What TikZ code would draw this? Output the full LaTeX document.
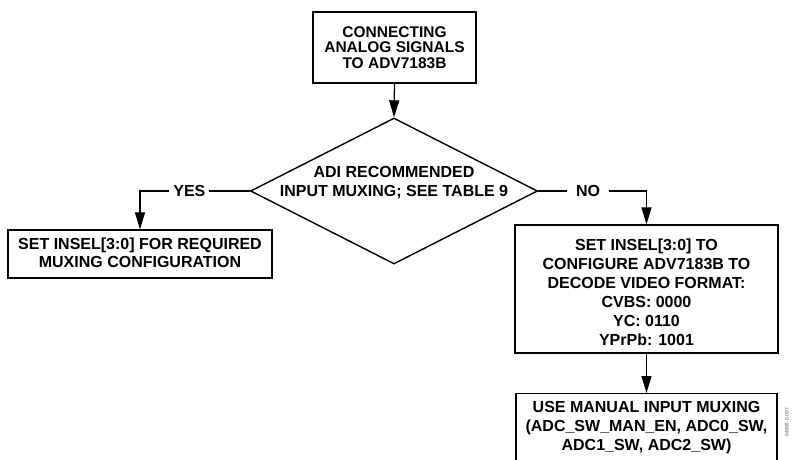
\documentclass[tikz,border=0pt]{standalone}
\usepackage{fontspec}
\setmainfont{Liberation Sans}
\usetikzlibrary{shapes.geometric,arrows.meta}
\tikzset{
  box/.style={draw, line width=1.4pt, rectangle, inner sep=0pt},
  txt/.style={align=center, font=\fontsize{16}{19}\selectfont\bfseries, inner sep=0pt},
  arr/.style={line width=1.3pt, -{Triangle[length=17pt,width=10pt]}},
  lbl/.style={fill=white, font=\fontsize{16}{19}\selectfont\bfseries, inner ysep=2pt},
}
\begin{document}
\begin{tikzpicture}[x=1pt,y=-1pt]
\useasboundingbox (0,0) rectangle (796,459);
% top box
\node[box, minimum width=163pt, minimum height=71pt] (start) at (394.5,47.5) {};
\node[txt, font=\fontsize{15.5}{15.5}\selectfont\bfseries] (starttxt) at (394.5,47.5) {CONNECTING\\ANALOG SIGNALS\\TO ADV7183B};
% decision
\node[diamond, draw, line width=1.4pt, minimum width=287pt, minimum height=146pt, inner sep=0pt] (dec) at (394,191) {};
\node[txt] (dectxt) at (394,183) {ADI RECOMMENDED\\INPUT MUXING; SEE TABLE 9};
% left box
\node[box, minimum width=264pt, minimum height=48pt] (yesbox) at (140,254) {};
\node[txt, font=\fontsize{16}{18.5}\selectfont\bfseries] (yestxt) at (140,253) {SET INSEL[3:0] FOR REQUIRED\\MUXING CONFIGURATION};
% right box
\node[box, minimum width=263pt, minimum height=128pt] (nobox) at (646.5,289) {};
\node[txt] (notxt) at (646.5,292) {SET INSEL[3:0] TO\\CONFIGURE ADV7183B TO\\DECODE VIDEO FORMAT:\\CVBS: 0000\\YC: 0110\\YPrPb: 1001};
% bottom box
\node[box, minimum width=261pt, minimum height=80pt, anchor=north] (manbox) at (646.5,393) {};
\node[txt] (mantxt) at (646.5,428) {USE MANUAL INPUT MUXING\\(ADC\_SW\_MAN\_EN, ADC0\_SW,\\ADC1\_SW, ADC2\_SW)};
% corners
\coordinate (cy) at (140,191);
\coordinate (cn) at (646.5,191);
% connectors
\draw[arr] (start.south) -- (dec.north);
\draw[arr] (dec.west) -- node[lbl, pos=0.55, inner xsep=4pt] (yeslbl) {YES} (cy) -- (yesbox.north);
\draw[arr] (dec.east) -- node[lbl, pos=0.46, inner xsep=9pt] (nolbl) {NO} (cn) -- (nobox.north);
\draw[arr] (nobox.south) -- (manbox.north);
% figure code
\node[rotate=90, font=\fontsize{5}{6}\selectfont, text=black!70, inner sep=0pt] (code) at (787,422) {04997-0-007};
\end{tikzpicture}
\end{document}
